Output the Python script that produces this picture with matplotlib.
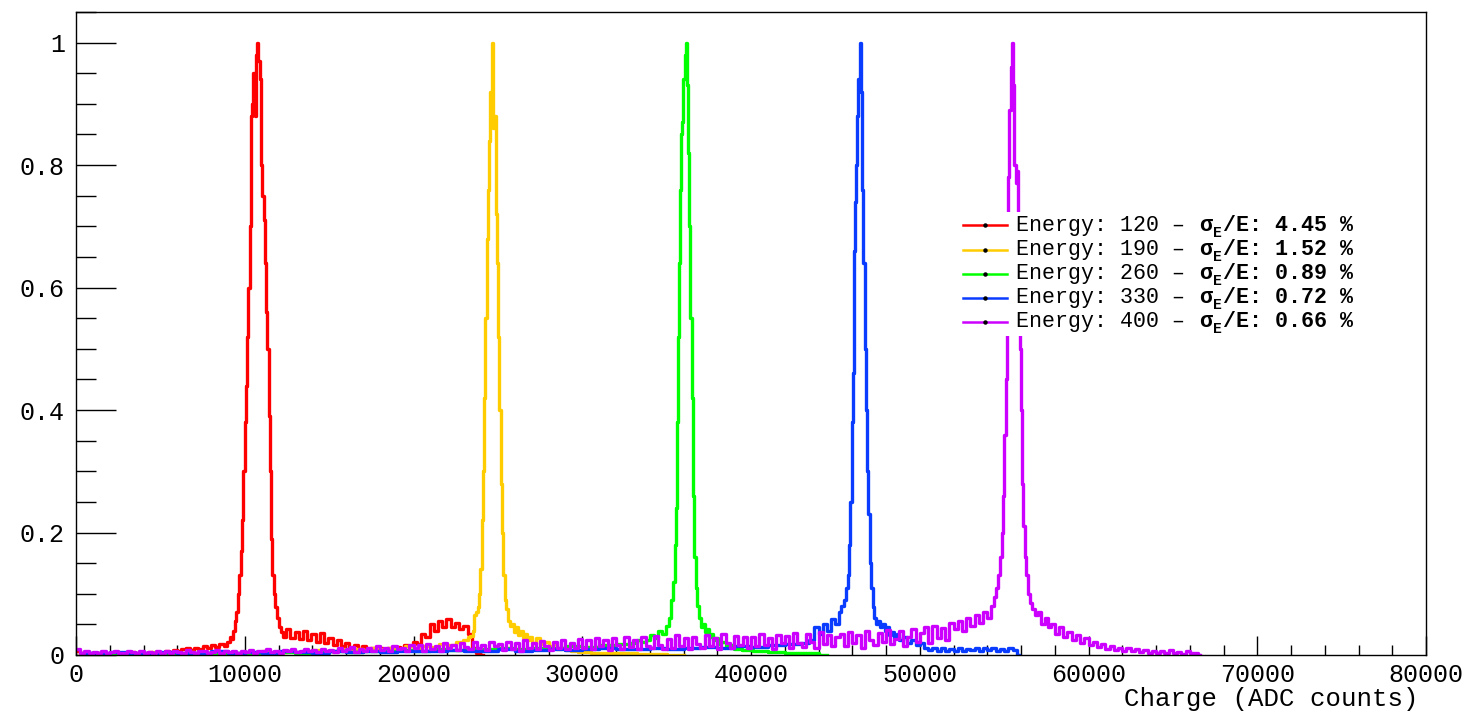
import numpy as np
import matplotlib
matplotlib.use("Agg")
import matplotlib.pyplot as plt
from matplotlib.ticker import MultipleLocator, FuncFormatter
from matplotlib.patches import Rectangle
from matplotlib.lines import Line2D

W, H = 1476, 711
MONO = ["Liberation Mono", "DejaVu Sans Mono"]

energies = [120, 190, 260, 330, 400]
resolutions = [4.45, 1.52, 0.89, 0.72, 0.66]
colors = ["#ff0000", "#ffcc00", "#00ff00", "#0a3cff", "#cc00ff"]


def centres(start, width, n):
    # bin centres of a uniform run of bins
    return list(start + width * (np.arange(n) + 0.5))


# ---- E = 120 (red) ----
red_base = [0.006, 0.003, 0.004, 0.002, 0.004, 0.003, 0.005, 0.002, 0.003, 0.004,
            0.002, 0.004, 0.003, 0.005, 0.003, 0.004, 0.002, 0.005, 0.003, 0.004,
            0.004, 0.006, 0.005, 0.008, 0.006, 0.009, 0.011, 0.008, 0.012, 0.010,
            0.014, 0.011, 0.016, 0.013, 0.018, 0.015]
red_pk_x = [9050, 9150, 9250, 9350, 9450, 9550, 9650, 9725, 9800, 9875, 9950, 10025,
            10100, 10175, 10250, 10325, 10400, 10475, 10550, 10625, 10700, 10775,
            10850, 10925, 11000, 11075, 11150, 11225, 11300, 11375, 11450, 11525,
            11600, 11675, 11750, 11850, 11950, 12075, 12200,
            12325, 12575, 12825, 13075, 13325, 13575, 13825, 14075, 14325, 14575,
            14825, 15075, 15325, 15575, 15825, 16075, 16325, 16575, 16825, 17075,
            17325, 17575, 17825, 18075, 18325, 18575, 18825, 19075, 19325, 19575,
            19825, 20075, 20325, 20575, 20825, 21075, 21325, 21575, 21825, 22075,
            22325, 22575, 22825, 23075, 23325, 23575, 23825, 24100]
red_pk_y = [0.022, 0.030, 0.026, 0.040, 0.055, 0.070, 0.100, 0.130, 0.170, 0.220, 0.300, 0.380,
            0.440, 0.520, 0.600, 0.700, 0.880, 0.900, 0.950, 0.880, 0.980, 1.000,
            0.970, 0.940, 0.800, 0.750, 0.710, 0.640, 0.560, 0.500, 0.390, 0.300,
            0.190, 0.130, 0.100, 0.078, 0.060, 0.045, 0.038,
            0.030, 0.042, 0.028, 0.038, 0.026, 0.040, 0.024, 0.034, 0.022, 0.036,
            0.020, 0.028, 0.016, 0.024, 0.014, 0.020, 0.012, 0.016, 0.010, 0.014,
            0.009, 0.012, 0.008, 0.011, 0.009, 0.012, 0.010, 0.013, 0.011, 0.016,
            0.014, 0.022, 0.018, 0.035, 0.030, 0.050, 0.040, 0.055, 0.045, 0.058,
            0.046, 0.052, 0.042, 0.048, 0.034, 0.012, 0.003, 0.000]
red_x = centres(0, 250, len(red_base)) + red_pk_x
red_y = red_base + red_pk_y

# ---- E = 190 (yellow) ----
yel_base = [0.004, 0.002, 0.003, 0.002, 0.004, 0.003, 0.002, 0.004, 0.003, 0.005,
            0.003, 0.004, 0.002, 0.005, 0.003, 0.004, 0.003, 0.005, 0.004, 0.003,
            0.005, 0.004, 0.006, 0.004, 0.005, 0.007, 0.005, 0.006, 0.008, 0.006,
            0.007, 0.009, 0.007, 0.010, 0.008, 0.011, 0.009, 0.012, 0.010, 0.014,
            0.011, 0.015, 0.013, 0.018, 0.016, 0.022]
yel_pk_x = [23150, 23300, 23450, 23550, 23650, 23750, 23850, 23925, 24000, 24075,
            24150, 24225, 24300, 24375, 24450, 24525, 24600, 24675, 24750, 24825,
            24900, 24975, 25050, 25125, 25200, 25275, 25350, 25450, 25550, 25650,
            25775, 25900, 26025, 26150, 26275, 26400, 26525, 26650, 26775, 26900,
            27125, 27375, 27625, 27875, 28125, 28375, 28625, 28875, 29125, 29500,
            30000, 31000, 32500, 34000, 36000]
yel_pk_y = [0.025, 0.030, 0.031, 0.040, 0.065, 0.070, 0.078, 0.100, 0.140, 0.220,
            0.300, 0.420, 0.550, 0.680, 0.760, 0.840, 0.920, 1.000, 0.860, 0.880,
            0.720, 0.640, 0.520, 0.400, 0.280, 0.200, 0.130, 0.090, 0.075, 0.055,
            0.048, 0.050, 0.038, 0.045, 0.032, 0.040, 0.028, 0.035, 0.024, 0.030,
            0.020, 0.027, 0.018, 0.022, 0.014, 0.018, 0.010, 0.012, 0.008, 0.006,
            0.005, 0.004, 0.003, 0.002, 0.000]
yel_x = centres(0, 500, len(yel_base)) + yel_pk_x
yel_y = yel_base + yel_pk_y

# ---- E = 260 (green) ----
grn_base = [0.003, 0.002, 0.003, 0.002, 0.003, 0.004, 0.002, 0.003, 0.004, 0.003,
            0.004, 0.003, 0.005, 0.004, 0.005, 0.006, 0.005, 0.007, 0.006, 0.008,
            0.007, 0.009, 0.008, 0.010, 0.009, 0.011, 0.010, 0.012, 0.011, 0.014,
            0.013, 0.016, 0.018]
grn_pk_x = [33125, 33375, 33625, 33875, 34125, 34375, 34625, 34875, 35050, 35200,
            35325, 35425, 35525, 35600, 35675, 35725, 35775, 35825, 35875, 35950,
            36025, 36100, 36150, 36225, 36300, 36375, 36450, 36525, 36600, 36675,
            36750, 36850, 36950, 37075, 37200, 37325, 37450, 37575, 37700, 37825,
            37950, 38125, 38375, 38625, 38875, 39125, 39750, 40500, 41500, 42500,
            43500, 44500]
grn_pk_y = [0.020, 0.025, 0.022, 0.025, 0.032, 0.028, 0.040, 0.035, 0.048, 0.060,
            0.090, 0.120, 0.180, 0.240, 0.380, 0.520, 0.640, 0.760, 0.850, 0.870,
            0.940, 0.980, 1.000, 0.930, 0.820, 0.700, 0.550, 0.420, 0.260, 0.160,
            0.110, 0.080, 0.060, 0.045, 0.050, 0.038, 0.042, 0.030, 0.035, 0.024,
            0.028, 0.018, 0.022, 0.014, 0.016, 0.010, 0.008, 0.006, 0.005, 0.004,
            0.003, 0.000]
grn_x = centres(0, 1000, len(grn_base)) + grn_pk_x
grn_y = grn_base + grn_pk_y

# ---- E = 330 (blue) ----
blu_base = [0.004, 0.003, 0.005, 0.003, 0.004, 0.005, 0.003, 0.004, 0.006, 0.004,
            0.005, 0.004, 0.006, 0.005, 0.004, 0.006, 0.005, 0.007, 0.005, 0.006,
            0.007, 0.006, 0.008, 0.006, 0.007, 0.009, 0.007, 0.008, 0.010, 0.008,
            0.009, 0.011, 0.009, 0.010, 0.012, 0.010, 0.011, 0.013, 0.011, 0.014,
            0.013, 0.016, 0.018]
blu_pk_x = [43250, 43625, 43875, 44125, 44375, 44625, 44875, 45100, 45275, 45425,
            45575, 45675, 45775, 45850, 45925, 46000, 46050, 46100, 46150, 46200,
            46250, 46325, 46400, 46460, 46525, 46575, 46625, 46700, 46775, 46850,
            46925, 47000, 47075, 47150, 47250, 47350, 47475, 47600, 47725, 47850,
            47975, 48100, 48250, 48400, 48550, 48700, 48875, 49125, 49375, 49625,
            49875, 50125, 50375, 50625, 50875, 51125, 51375, 51625, 51875, 52125,
            52375, 52625, 52875, 53125, 53375, 53625, 53875, 54125, 54375, 54625,
            54875, 55125, 55375, 55625, 55875]
blu_pk_y = [0.020, 0.025, 0.045, 0.035, 0.050, 0.040, 0.058, 0.050, 0.070, 0.080,
            0.090, 0.110, 0.130, 0.180, 0.250, 0.380, 0.460, 0.560, 0.660, 0.740,
            0.800, 0.880, 0.940, 1.000, 0.920, 0.860, 0.760, 0.640, 0.500, 0.400,
            0.300, 0.230, 0.150, 0.110, 0.078, 0.060, 0.050, 0.055, 0.045, 0.050,
            0.040, 0.045, 0.032, 0.038, 0.028, 0.034, 0.025, 0.030, 0.020, 0.025,
            0.016, 0.020, 0.012, 0.008, 0.012, 0.007, 0.011, 0.006, 0.010, 0.007,
            0.012, 0.006, 0.010, 0.008, 0.012, 0.007, 0.011, 0.008, 0.012, 0.006,
            0.010, 0.007, 0.011, 0.008, 0.000]
blu_x = centres(0, 1000, len(blu_base)) + blu_pk_x
blu_y = blu_base + blu_pk_y

# ---- E = 400 (magenta) ----
mag_base = [0.010, 0.004, 0.006, 0.003, 0.005, 0.004, 0.007, 0.003, 0.005, 0.006,
            0.004, 0.003, 0.006, 0.005, 0.003, 0.007, 0.004, 0.005, 0.003, 0.006,
            0.004, 0.006, 0.003, 0.007, 0.005, 0.004, 0.008, 0.005, 0.003, 0.006,
            0.007, 0.004, 0.005, 0.008, 0.004, 0.006, 0.005, 0.007, 0.004, 0.006,
            0.005, 0.008, 0.004, 0.007, 0.006, 0.009, 0.005, 0.007, 0.004, 0.008,
            0.006, 0.010, 0.005, 0.007, 0.009, 0.006, 0.008, 0.005, 0.010, 0.007,
            0.008, 0.005, 0.011, 0.006, 0.009, 0.013, 0.005, 0.010, 0.007, 0.012,
            0.006, 0.014, 0.008, 0.011, 0.006, 0.015, 0.009, 0.012, 0.007, 0.016,
            0.011, 0.016, 0.006, 0.018, 0.010, 0.015, 0.007, 0.019, 0.012, 0.017,
            0.008, 0.020, 0.013, 0.009, 0.022, 0.011, 0.017, 0.008, 0.021, 0.014,
            0.018, 0.008, 0.022, 0.010, 0.019, 0.007, 0.024, 0.012, 0.020, 0.009,
            0.023, 0.014, 0.008, 0.021, 0.011, 0.025, 0.009, 0.020, 0.012, 0.026,
            0.012, 0.024, 0.009, 0.027, 0.014, 0.024, 0.008, 0.028, 0.016, 0.010,
            0.030, 0.013, 0.025, 0.009, 0.029, 0.015, 0.011, 0.031, 0.017, 0.010,
            0.026, 0.012, 0.032, 0.015, 0.027, 0.009, 0.030, 0.018, 0.011, 0.033,
            0.014, 0.028, 0.010, 0.034, 0.019, 0.012, 0.031, 0.016, 0.029, 0.011,
            0.030, 0.014, 0.035, 0.017, 0.028, 0.010, 0.033, 0.019, 0.031, 0.012,
            0.036, 0.020, 0.013, 0.034, 0.022, 0.011, 0.037, 0.018, 0.032, 0.015,
            0.029, 0.035, 0.014, 0.038, 0.020, 0.032, 0.012, 0.040, 0.024, 0.016,
            0.036, 0.021, 0.041, 0.018, 0.026, 0.039, 0.015, 0.030, 0.043, 0.022,
            0.036, 0.045, 0.020, 0.048, 0.028, 0.044, 0.024, 0.052]
mag_pk_x = [52125, 52375, 52625, 52875, 53125, 53375, 53625, 53875, 54100, 54300,
            54450, 54600, 54700, 54800, 54900, 54975, 55050, 55125, 55200, 55275,
            55350, 55425, 55500, 55575, 55650, 55725, 55800, 55875, 55950, 56025,
            56100, 56175, 56250, 56350, 56450, 56600, 56750, 56900, 57100, 57300,
            57500, 57700, 57900, 58125, 58375, 58625, 58875, 59125, 59375, 59625,
            59875, 60125, 60375, 60625, 60875, 61125, 61375, 61625, 61875, 62125,
            62375, 62625, 62875, 63125, 63375, 63625, 63875, 64125, 64375, 64625,
            64875, 65125, 65375, 65625, 65875, 66125, 66375, 66625]
mag_pk_y = [0.042, 0.055, 0.040, 0.060, 0.048, 0.065, 0.052, 0.070, 0.060, 0.080,
            0.095, 0.110, 0.130, 0.160, 0.200, 0.260, 0.360, 0.450, 0.580, 0.780,
            0.890, 0.960, 1.000, 0.930, 0.800, 0.770, 0.790, 0.620, 0.500, 0.400,
            0.280, 0.210, 0.160, 0.130, 0.100, 0.085, 0.075, 0.065, 0.070, 0.050,
            0.060, 0.045, 0.050, 0.035, 0.045, 0.030, 0.038, 0.025, 0.032, 0.020,
            0.028, 0.016, 0.022, 0.013, 0.018, 0.010, 0.015, 0.008, 0.012, 0.007,
            0.011, 0.006, 0.009, 0.005, 0.008, 0.004, 0.007, 0.004, 0.006, 0.003,
            0.008, 0.003, 0.005, 0.002, 0.006, 0.003, 0.004, 0.000]
mag_x = centres(0, 250, len(mag_base)) + mag_pk_x
mag_y = mag_base + mag_pk_y

series_x = [red_x, yel_x, grn_x, blu_x, mag_x]
series_y = [red_y, yel_y, grn_y, blu_y, mag_y]


def fx(px):
    return px / W


def fy(py):
    return 1 - py / H


fig = plt.figure(figsize=(W / 100, H / 100), dpi=100)
ax = fig.add_axes([fx(76), fy(655), 1350 / W, 643 / H])

for xs, ys, c in zip(series_x, series_y, colors):
    ax.plot(xs, ys, drawstyle="steps-mid", color=c, lw=2.4)

ax.set_xlim(0, 80000)
ax.set_ylim(0, 1.05)
ax.xaxis.set_major_locator(MultipleLocator(10000))
ax.xaxis.set_minor_locator(MultipleLocator(2000))
ax.yaxis.set_major_locator(MultipleLocator(0.2))
ax.yaxis.set_minor_locator(MultipleLocator(0.05))
ax.yaxis.set_major_formatter(FuncFormatter(lambda v, p: f"{v:g}"))
ax.xaxis.set_major_formatter(FuncFormatter(lambda v, p: f"{v:g}"))

ax.tick_params(axis="both", which="both", direction="in", top=False, right=False,
               width=1.0, labelsize=18)
ax.tick_params(axis="y", which="major", length=28.8, pad=8)
ax.tick_params(axis="y", which="minor", length=14.4)
ax.tick_params(axis="x", which="major", length=13.7, pad=6)
ax.tick_params(axis="x", which="minor", length=7.2)
for lab in ax.get_xticklabels() + ax.get_yticklabels():
    lab.set_family(MONO)
for sp in ax.spines.values():
    sp.set_linewidth(1.0)

ax.set_xlabel("Charge (ADC counts)", fontsize=18.5, family=MONO)
ax.xaxis.set_label_coords((1418 - 76) / 1350, (655 - 706) / 643)
ax.xaxis.label.set_horizontalalignment("right")
ax.xaxis.label.set_verticalalignment("baseline")

# legend drawn by hand: white box, line samples, mixed regular/bold text
fig.add_artist(Rectangle((fx(955), fy(336)), 407 / W, 124 / H,
                         transform=fig.transFigure, facecolor="white",
                         edgecolor="none", zorder=3))
for i, (e, r, c) in enumerate(zip(energies, resolutions, colors)):
    yc = 225.5 + 24 * i
    base = yc + 5.5
    fig.add_artist(Line2D([fx(963), fx(1007)], [fy(yc), fy(yc)], color=c, lw=1.8,
                          transform=fig.transFigure, zorder=4))
    fig.add_artist(Line2D([fx(985)], [fy(yc)], marker="o", markersize=2.2,
                          color="black", transform=fig.transFigure, zorder=5))
    fig.text(fx(1016.5), fy(base), f"Energy: {e} \u2013 ", fontsize=15.6,
             family=MONO, va="baseline", zorder=5)
    fig.text(fx(1199.5), fy(base), "\u03c3", fontsize=15.6, family=MONO,
             weight="bold", va="baseline", zorder=5)
    fig.text(fx(1213), fy(base + 6), "E", fontsize=10.5, family=MONO,
             weight="bold", va="baseline", zorder=5)
    fig.text(fx(1223), fy(base), f"/E: {r:.2f} %", fontsize=15.6, family=MONO,
             weight="bold", va="baseline", zorder=5)

fig.savefig("out.png", dpi=100)
